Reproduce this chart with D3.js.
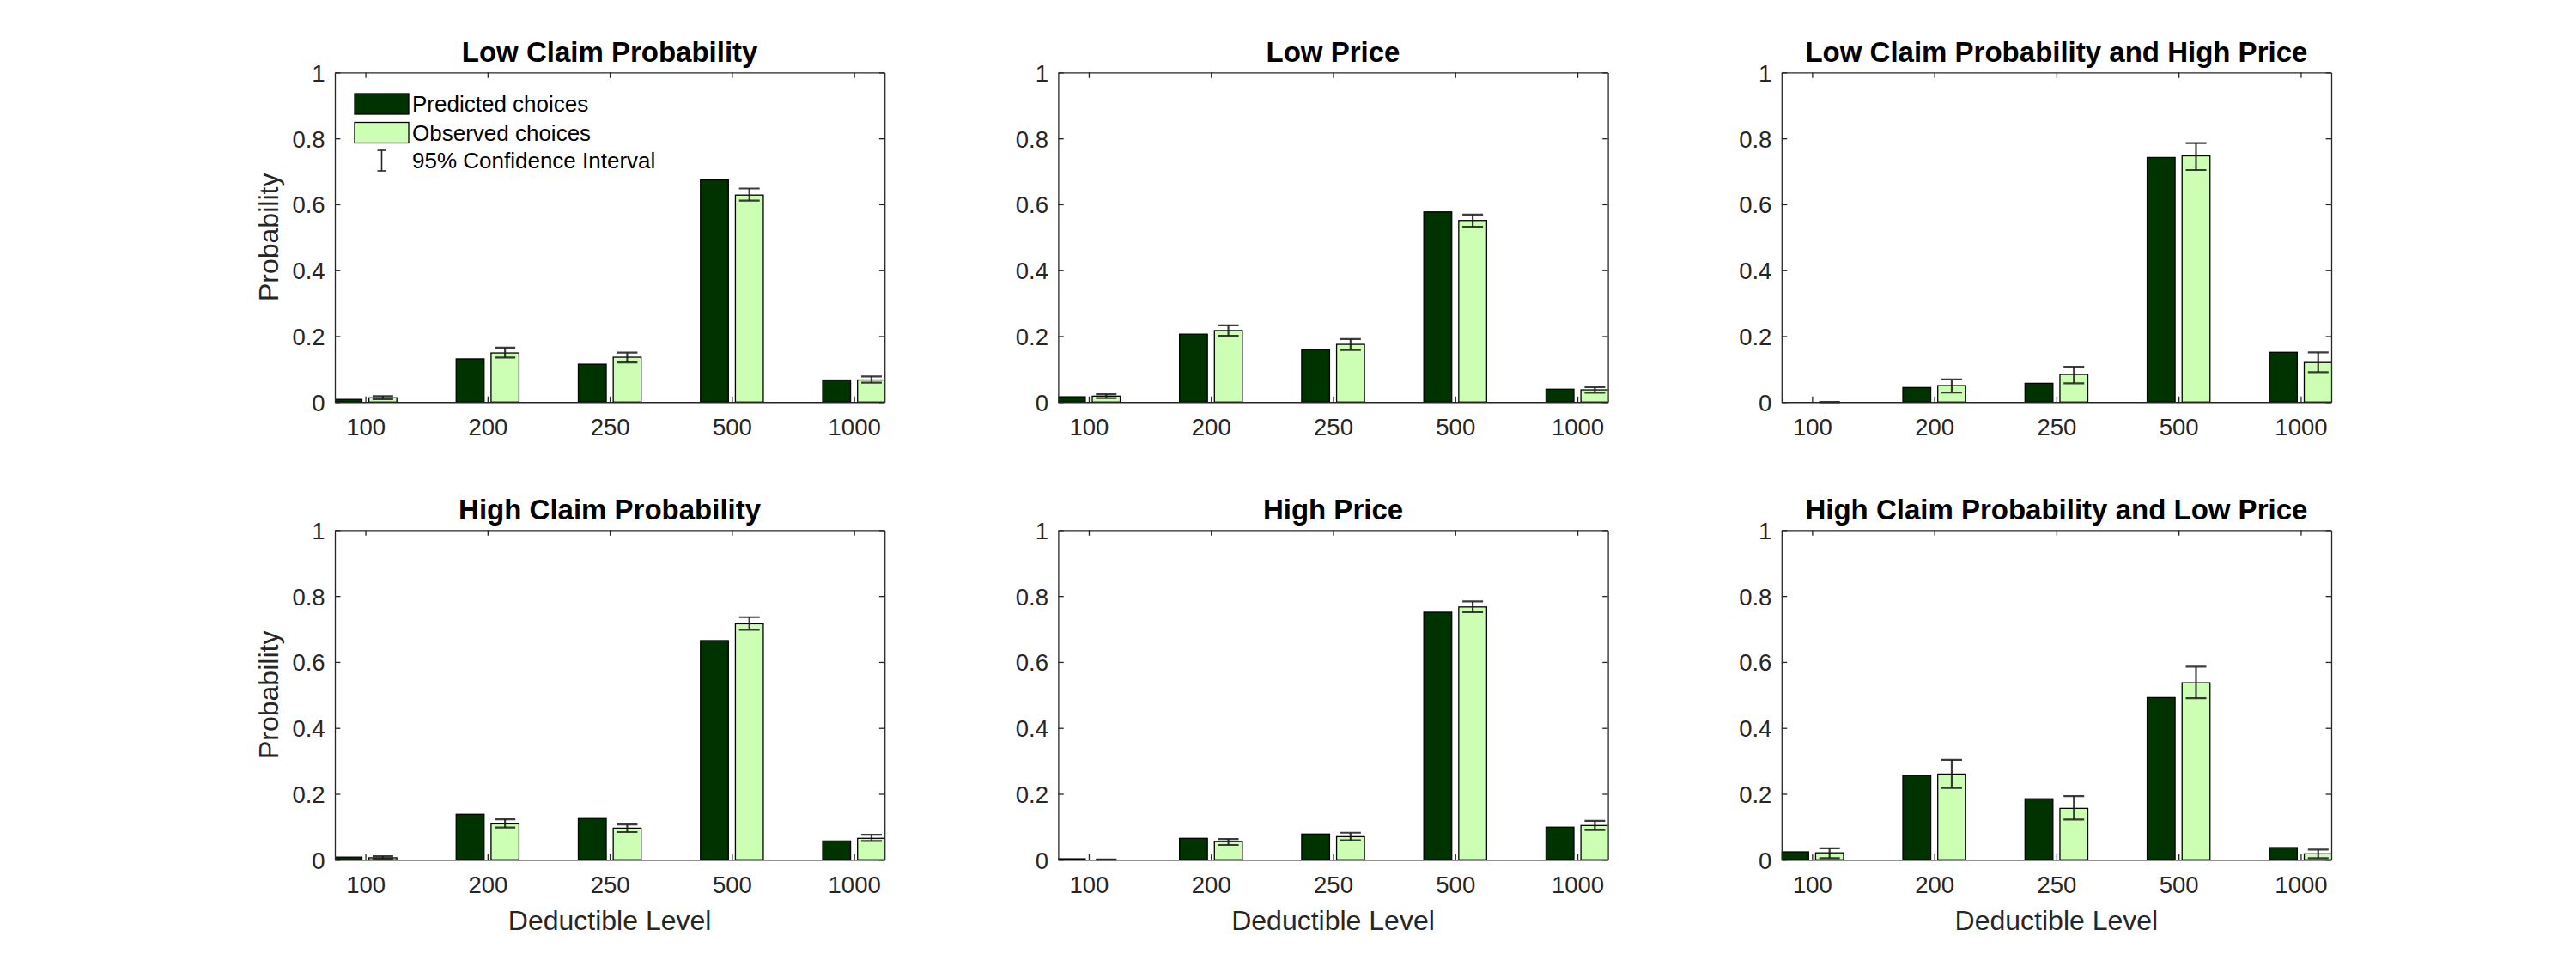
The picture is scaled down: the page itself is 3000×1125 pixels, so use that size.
<!DOCTYPE html>
<html><head><meta charset="utf-8">
<script src="https://cdn.jsdelivr.net/npm/d3@7"></script>
<style>body{margin:0;background:#fff} svg{display:block} text{font-family:"Liberation Sans",Arial,Helvetica,sans-serif}</style>
</head><body>
<svg id="c" width="3000" height="1125"></svg>
<script>
const categories = ["100","200","250","500","1000"];
const titles = ["Low Claim Probability","Low Price","Low Claim Probability and High Price",
                "High Claim Probability","High Price","High Claim Probability and Low Price"];
const predicted = [
 [0.008,0.131,0.115,0.674,0.067],
 [0.016,0.206,0.159,0.577,0.039],
 [0.000,0.044,0.057,0.742,0.151],
 [0.008,0.138,0.125,0.665,0.057],
 [0.003,0.065,0.078,0.751,0.099],
 [0.024,0.256,0.185,0.492,0.037]
];
const observed = [
 [0.013,0.149,0.136,0.628,0.067],
 [0.018,0.217,0.175,0.551,0.037],
 [0.000,0.050,0.084,0.747,0.120],
 [0.006,0.109,0.096,0.716,0.065],
 [0.000,0.055,0.070,0.767,0.104],
 [0.021,0.260,0.156,0.537,0.018]
];
const ciLower = [
 [0.009,0.135,0.120,0.611,0.059],
 [0.012,0.201,0.158,0.532,0.028],
 [0.000,0.029,0.057,0.704,0.091],
 [0.003,0.098,0.084,0.698,0.057],
 [0.000,0.045,0.059,0.751,0.090],
 [0.005,0.218,0.122,0.490,0.005]
];
const ciUpper = [
 [0.018,0.165,0.150,0.648,0.078],
 [0.024,0.233,0.191,0.569,0.045],
 [0.000,0.069,0.107,0.786,0.151],
 [0.011,0.123,0.107,0.736,0.076],
 [0.001,0.063,0.082,0.784,0.118],
 [0.035,0.303,0.193,0.586,0.031]
];
const yTicks = [0,0.2,0.4,0.6,0.8,1];
const yTickLabels = ["0","0.2","0.4","0.6","0.8","1"];
const legendLabels = ["Predicted choices","Observed choices","95% Confidence Interval"];
const yLabel = "Probability";
const xLabel = "Deductible Level";

const PRED = "#003300", OBS = "#ccffb3", AX = "#262626";
const colLeft = [390, 1232.4, 2074.8], W = 640.2;
const rowTop = [84.4, 617.4], H = 383.85;
const tickFS = 27.5, labelFS = 32, titleFS = 33, legFS = 26;
const groupOff = 0.1429, barW = 0.2286;

const svg = d3.select("#c");

titles.forEach((t, p) => {
  const col = p % 3, row = Math.floor(p / 3);
  const L = colLeft[col], T = rowTop[row];
  const x = d3.scaleLinear().domain([0.75, 5.25]).range([L, L + W]);
  const y = d3.scaleLinear().domain([0, 1]).range([T + H, T]);
  const g = svg.append("g");
  const cid = "clip" + p;
  g.append("clipPath").attr("id", cid).append("rect")
    .attr("x", L).attr("y", T - 2).attr("width", W).attr("height", H + 10);
  const data = categories.map((c, i) => ({
    i: i + 1, pred: predicted[p][i], obs: observed[p][i], lo: ciLower[p][i], hi: ciUpper[p][i]
  }));
  const plot = g.append("g").attr("clip-path", `url(#${cid})`);
  // predicted bars
  plot.selectAll("rect.pred").data(data).enter().append("rect")
    .attr("x", d => x(d.i - groupOff - barW / 2))
    .attr("width", d => x(d.i - groupOff + barW / 2) - x(d.i - groupOff - barW / 2))
    .attr("y", d => y(d.pred)).attr("height", d => y(0) - y(d.pred))
    .attr("fill", PRED).attr("stroke", "#000").attr("stroke-width", 1.3);
  plot.selectAll("rect.obs").data(data).enter().append("rect")
    .attr("x", d => x(d.i + groupOff - barW / 2))
    .attr("width", d => x(d.i + groupOff + barW / 2) - x(d.i + groupOff - barW / 2))
    .attr("y", d => y(d.obs)).attr("height", d => y(0) - y(d.obs))
    .attr("fill", OBS).attr("stroke", "#000").attr("stroke-width", 1.3);
  // error bars
  const eb = plot.selectAll("g.eb").data(data).enter().append("g")
    .attr("stroke", "#1a1a1a").attr("stroke-width", 2.2).attr("stroke-opacity", 0.85);
  eb.append("line").attr("x1", d => x(d.i + groupOff)).attr("x2", d => x(d.i + groupOff))
    .attr("y1", d => y(d.lo)).attr("y2", d => y(d.hi));
  eb.append("line").attr("x1", d => x(d.i + groupOff) - 12).attr("x2", d => x(d.i + groupOff) + 12)
    .attr("y1", d => y(d.lo)).attr("y2", d => y(d.lo));
  eb.append("line").attr("x1", d => x(d.i + groupOff) - 12).attr("x2", d => x(d.i + groupOff) + 12)
    .attr("y1", d => y(d.hi)).attr("y2", d => y(d.hi));

  // axes box
  const tl = 6.4;
  const axisBottom = d3.axisBottom(x).tickValues([1,2,3,4,5]).tickFormat((d, i) => categories[i])
    .tickSizeInner(-tl).tickSizeOuter(0).tickPadding(tl + 12);
  const axisTop = d3.axisTop(x).tickValues([1,2,3,4,5]).tickFormat("").tickSizeInner(-tl).tickSizeOuter(0);
  const axisLeft = d3.axisLeft(y).tickValues(yTicks).tickFormat((d, i) => yTickLabels[i])
    .tickSizeInner(-tl).tickSizeOuter(0).tickPadding(tl + 5);
  const axisRight = d3.axisRight(y).tickValues(yTicks).tickFormat("").tickSizeInner(-tl).tickSizeOuter(0);
  const styleAx = s => {
    s.select(".domain").attr("stroke", AX).attr("stroke-width", 1.3);
    s.selectAll(".tick line").attr("stroke", AX).attr("stroke-width", 1.3);
    s.selectAll(".tick text").attr("fill", AX).style("font-size", tickFS + "px")
      .style("font-family", '"Liberation Sans",Arial,sans-serif');
  };
  g.append("g").attr("transform", `translate(0,${T + H})`).call(axisBottom).call(styleAx)
    .selectAll(".tick text").attr("dy", null).attr("y", 39).attr("dominant-baseline", "alphabetic");
  g.append("g").attr("transform", `translate(0,${T})`).call(axisTop).call(styleAx);
  g.append("g").attr("transform", `translate(${L},0)`).call(axisLeft).call(styleAx)
    .selectAll(".tick text").attr("dy", "0.358em");
  g.append("g").attr("transform", `translate(${L + W},0)`).call(axisRight).call(styleAx);

  // title
  g.append("text").attr("x", L + W / 2).attr("y", T - 12.4).attr("text-anchor", "middle")
    .style("font-size", titleFS + "px").style("font-weight", "bold").attr("fill", "#000").text(t);
  if (col === 0) {
    g.append("text").attr("transform", `translate(${L - 66},${T + H / 2}) rotate(-90)`)
      .attr("text-anchor", "middle").style("font-size", labelFS + "px").attr("fill", AX).text(yLabel);
  }
  if (row === 1) {
    g.append("text").attr("x", L + W / 2).attr("y", T + H + 82).attr("text-anchor", "middle")
      .style("font-size", labelFS + "px").attr("fill", AX).text(xLabel);
  }
  if (p === 0) {
    const lg = g.append("g");
    const px = L + 23, pw = 63, ph = 24;
    const rowsY = [121, 154.5, 187];
    lg.append("rect").attr("x", px).attr("y", rowsY[0] - ph / 2).attr("width", pw).attr("height", ph)
      .attr("fill", PRED).attr("stroke", "#000").attr("stroke-width", 1.3);
    lg.append("rect").attr("x", px).attr("y", rowsY[1] - ph / 2).attr("width", pw).attr("height", ph)
      .attr("fill", OBS).attr("stroke", "#000").attr("stroke-width", 1.3);
    const cx = px + pw / 2, e = lg.append("g").attr("stroke", AX).attr("stroke-width", 1.6);
    e.append("line").attr("x1", cx).attr("x2", cx).attr("y1", rowsY[2] - 12).attr("y2", rowsY[2] + 12);
    e.append("line").attr("x1", cx - 5).attr("x2", cx + 5).attr("y1", rowsY[2] - 12).attr("y2", rowsY[2] - 12);
    e.append("line").attr("x1", cx - 5).attr("x2", cx + 5).attr("y1", rowsY[2] + 12).attr("y2", rowsY[2] + 12);
    legendLabels.forEach((lab, k) => {
      lg.append("text").attr("x", px + pw + 4).attr("y", rowsY[k] + 0.358 * legFS)
        .style("font-size", legFS + "px").attr("fill", "#000").text(lab);
    });
  }
});
</script>
</body></html>
